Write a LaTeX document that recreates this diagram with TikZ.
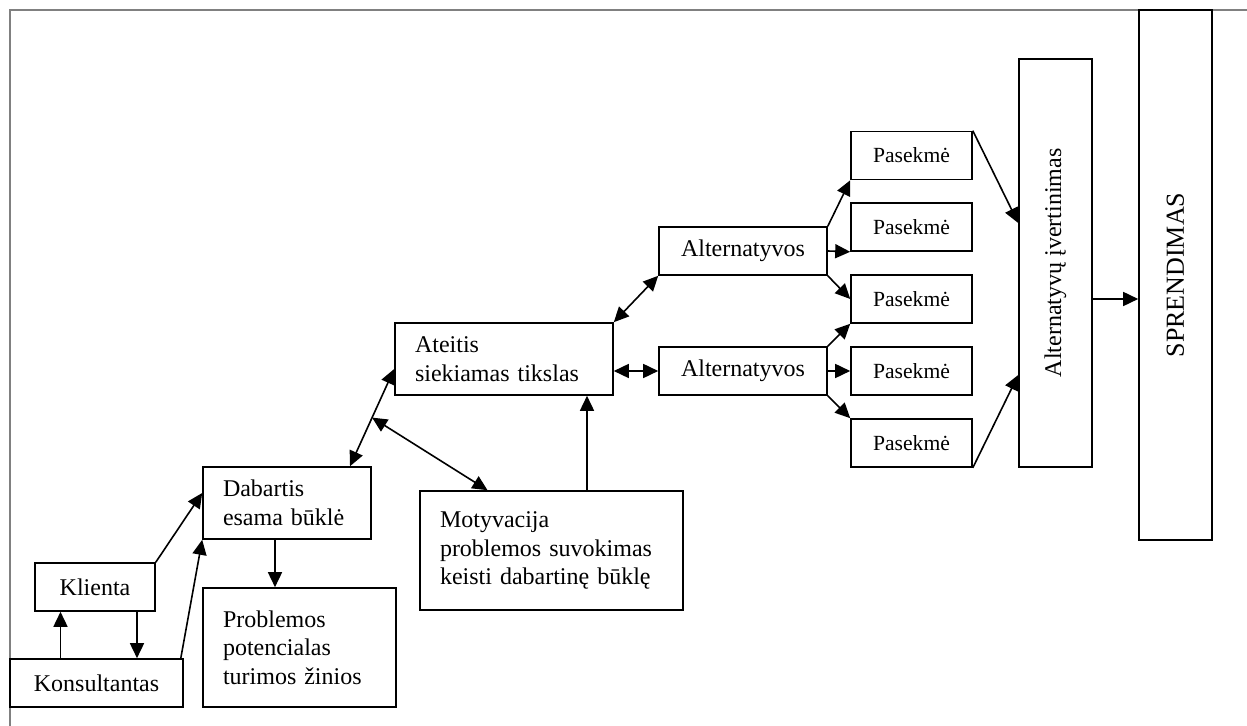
\documentclass[tikz,border=0pt]{standalone}
\usepackage{fontspec}
\setmainfont{Liberation Serif}
\usetikzlibrary{arrows.meta}
\tikzset{
  blockNode/.style={draw,rectangle,line width=0.8pt,inner sep=0pt,minimum height=24pt,font=\fontsize{12}{14.25}\selectfont},
  textNode/.style={blockNode,align=left,inner xsep=10pt,minimum height=36pt},
  effNode/.style={blockNode,minimum width=60.5pt,font=\fontsize{10.8}{12}\selectfont},
  tallNode/.style={blockNode,minimum width=36.5pt},
  link/.style={line width=0.8pt,-{Triangle[length=7.5pt,width=7pt]}},
  dlink/.style={line width=0.8pt,{Triangle[length=7.5pt,width=7pt]}-{Triangle[length=7.5pt,width=7pt]}}
}
\begin{document}
\begin{tikzpicture}[x=0.5pt,y=-0.5pt]
  \useasboundingbox (0,0) rectangle (1247,726);
  \draw[gray,line width=0.8pt] (1247,10) -- (10,10) -- (10,726);
  \node[blockNode,minimum width=86.5pt] (kons) at (96.5,683) {Konsultantas};
  \node[blockNode,minimum width=60pt] (kli) at (95,587) {Klienta};
  \node[textNode,text width=64pt] (dab) at (287,503) {Dabartis\\esama būklė};
  \node[textNode,text width=76.5pt,minimum height=59.5pt] (prob) at (299.5,647.5) {Problemos\\potencialas\\turimos žinios};
  \node[textNode,text width=89pt] (ate) at (504,359) {Ateitis\\siekiamas tikslas};
  \node[textNode,text width=111.5pt,minimum height=59.5pt] (mot) at (551.5,550.5) {Motyvacija\\problemos suvokimas\\keisti dabartinę būklę};
  \node[blockNode,minimum width=84pt] (alt1) at (743,251) {Alternatyvos};
  \node[blockNode,minimum width=84pt] (alt2) at (743,371) {Alternatyvos};
  \foreach \i/\y in {1/155.5,2/227,3/299,4/371,5/443}
    \node[effNode] (p\i) at (911.5,\y) {Pasekmė};
  \node[tallNode,minimum height=204pt] (ai) at (1055.5,263) {\rotatebox{90}{\fontsize{12}{14}\selectfont Alternatyvų įvertinimas}};
  \node[tallNode,minimum height=265pt] (sp) at (1175.5,275) {\rotatebox{90}{\fontsize{13}{15}\selectfont SPRENDIMAS}};
  \draw[link] ([xshift=-18pt]kons.north) -- ([xshift=-18pt]kons.north |- kli.south);
  \draw[link] ([xshift=21pt]kli.south) -- ([xshift=21pt]kli.south |- kons.north);
  \draw[link] (kli.north east) -- ([yshift=5pt]dab.west);
  \draw[link] ([xshift=-1.5pt]kons.north east) -- (dab.south west);
  \draw[link] ([xshift=-6pt]dab.south) -- ([xshift=-6pt]dab.south |- prob.north);
  \draw[dlink] ([xshift=31.5pt]dab.north) -- coordinate[pos=0.5] (mid) ([yshift=-5pt]ate.west);
  \draw[dlink] (mid) -- ([xshift=-32pt]mot.north);
  \draw[link] ([xshift=17.75pt]mot.north) -- ([xshift=17.75pt]mot.north |- ate.south);
  \draw[dlink] (ate.north east) -- (alt1.south west);
  \draw[dlink] (ate.east |- alt2.west) -- (alt2.west);
  \draw[link] (alt1.north east) -- (p1.south west);
  \draw[link] (alt1.east) -- (p2.south west);
  \draw[link] (alt1.south east) -- (p3.west);
  \draw[link] (alt2.north east) -- (p3.south west);
  \draw[link] (alt2.east) -- (p4.west);
  \draw[link] (alt2.south east) -- (p5.north west);
  \draw[link] (p1.north east) -- ([yshift=20pt]ai.west);
  \draw[link] (p5.south east) -- ([yshift=-56pt]ai.west);
  \draw[link] ([yshift=-18pt]ai.east) -- ([yshift=-18pt]ai.east -| sp.west);
\end{tikzpicture}
\end{document}
